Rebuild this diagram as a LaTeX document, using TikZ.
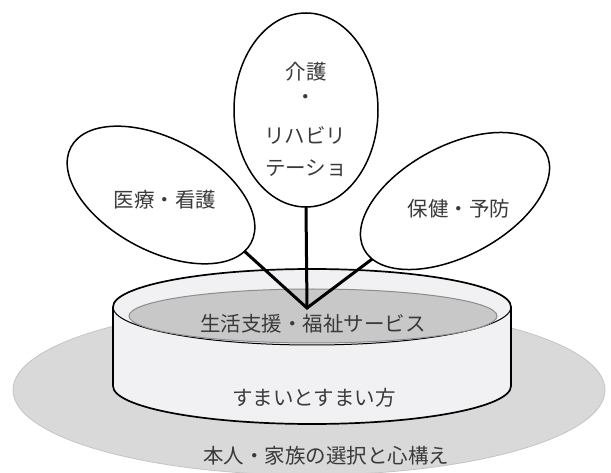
\documentclass[tikz,border=0pt]{standalone}
\usepackage{fontspec}
\newfontfamily\jp{Noto Sans CJK JP}
\usetikzlibrary{shapes.geometric}
\definecolor{bigfill}{HTML}{D9D9D9}
\definecolor{bigdraw}{HTML}{C4C4C4}
\definecolor{bodyfill}{HTML}{F1F1F3}
\definecolor{innerfill}{HTML}{C8C8C8}
\definecolor{innerdraw}{HTML}{8C8C8C}
\definecolor{txt}{HTML}{3A3A3A}
\tikzset{
  lbl/.style={inner sep=0pt, text=txt, font=\jp\fontsize{20.5}{24}\selectfont},
  petal/.style={ellipse, draw=black, line width=1.5pt, fill=white, inner sep=0pt, outer sep=0pt},
  link/.style={line width=3pt, line join=miter, black},
  rim/.style={line width=1.7pt, black}
}
\begin{document}
\begin{tikzpicture}[x=1pt,y=-1pt]
\useasboundingbox (0,0) rectangle (611,473);
% ground ellipse
\node[ellipse, fill=bigfill, draw=bigdraw, line width=0.8pt, inner sep=0pt,
      minimum width=592pt, minimum height=170pt] (ground) at (309,390) {};
% cylinder body and top
\fill[bodyfill] (113,307) -- (113,386)
  arc[start angle=180, end angle=0, x radius=199, y radius=38]
  -- (511,307)
  arc[start angle=0, end angle=-180, x radius=199, y radius=38] -- cycle;
\draw[rim] (113,307) -- (113,386)
  arc[start angle=180, end angle=0, x radius=199, y radius=38]
  -- (511,307)
  arc[start angle=0, end angle=-180, x radius=199, y radius=38];
\draw[line width=1pt, black] (113,307)
  arc[start angle=180, end angle=0, x radius=199, y radius=38];
% inner surface
\node[ellipse, fill=innerfill, draw=innerdraw, line width=1pt, inner sep=0pt,
      minimum width=368pt, minimum height=54pt] (inner) at (313,316) {};
% petals
\node[petal, minimum width=144pt, minimum height=194pt] (care) at (306,110) {};
\node[petal, rotate=-28, minimum width=204pt, minimum height=112pt] (med) at (161,195) {};
\node[petal, rotate=28, minimum width=206pt, minimum height=110pt] (hlth) at (455,201) {};
% connectors
\coordinate (apex) at (307,308);
\draw[link] (med.-6) -- (apex) -- (hlth.187);
\draw[link] (care.south) -- (apex);
% labels
\node[lbl] (t1) at (306,72) {介護};
\node[lbl] (t2) at (306,100) {・};
\node[lbl] (t3) at (305,135) {リハビリ};
\node[lbl] (t4) at (306,168) {テーショ};
\node[lbl] (tmed) at (165,200) {医療・看護};
\node[lbl] (thl) at (459,209) {保健・予防};
\node[lbl] (tsvc) at (313,324) {生活支援・福祉サービス};
\node[lbl] (thome) at (314,398) {すまいとすまい方};
\node[lbl] (tself) at (326,456) {本人・家族の選択と心構え};
\end{tikzpicture}
\end{document}
